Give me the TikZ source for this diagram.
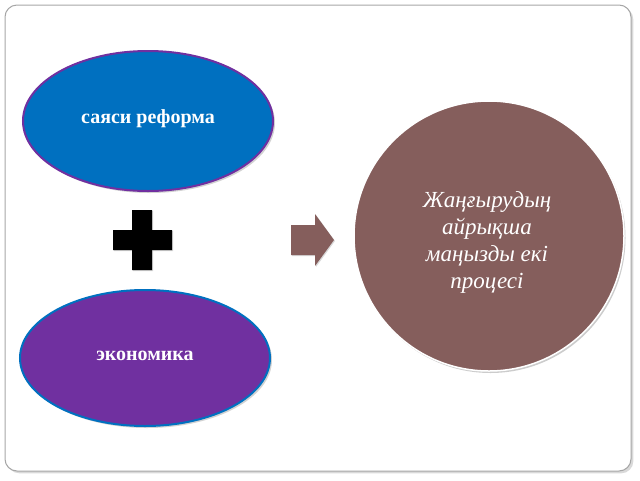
\documentclass[tikz,border=0pt]{standalone}
\usepackage{fontspec}
\setmainfont{Liberation Serif}
\usetikzlibrary{shapes.geometric,shadows}
\definecolor{bluef}{HTML}{0070C0}
\definecolor{purp}{HTML}{7030A0}
\definecolor{brn}{HTML}{855E5C}
\begin{document}
\begin{tikzpicture}[x=1pt,y=-1pt,
  ell/.style={ellipse,minimum width=250pt,minimum height=140pt,line width=2pt,text=white,font=\bfseries\fontsize{20}{24}\selectfont,drop shadow={opacity=0.35,shadow xshift=2pt,shadow yshift=-2pt}}]
\useasboundingbox (0,0) rectangle (640,480);
\draw[gray!70,fill=white,line width=1pt,rounded corners=12pt,drop shadow={opacity=0.3}] (5,5) rectangle (631,471);
\node[ell,fill=bluef,draw=purp] (a) at (148,121) {\raisebox{8pt}{саяси реформа}};
\node[ell,fill=purp,draw=bluef,minimum height=136pt] (b) at (145,358) {\raisebox{4pt}{экономика}};
\node[circle,fill=brn,draw=white,line width=1.5pt,minimum size=270pt,
  drop shadow={opacity=0.4,shadow xshift=1.5pt,shadow yshift=-2pt}] (c) at (489,236) {};
\node[text=white,align=center,font=\itshape\fontsize{23}{27}\selectfont] (ct) at (487,242) {Жаңғырудың\\айрықша\\маңызды екі\\процесі};
\fill[black,drop shadow={opacity=0.3,shadow xshift=1pt,shadow yshift=-1pt}] (132,210) -- (152,210) -- (152,230) -- (172,230) -- (172,250) -- (152,250) -- (152,270) -- (132,270) -- (132,250) -- (113,250) -- (113,230) -- (132,230) -- cycle;
\fill[brn,drop shadow={opacity=0.3,shadow xshift=1pt,shadow yshift=-1pt}] (291,225) -- (315,225) -- (315,214) -- (334,240) -- (315,266) -- (315,255) -- (291,255) -- cycle;
\end{tikzpicture}
\end{document}
